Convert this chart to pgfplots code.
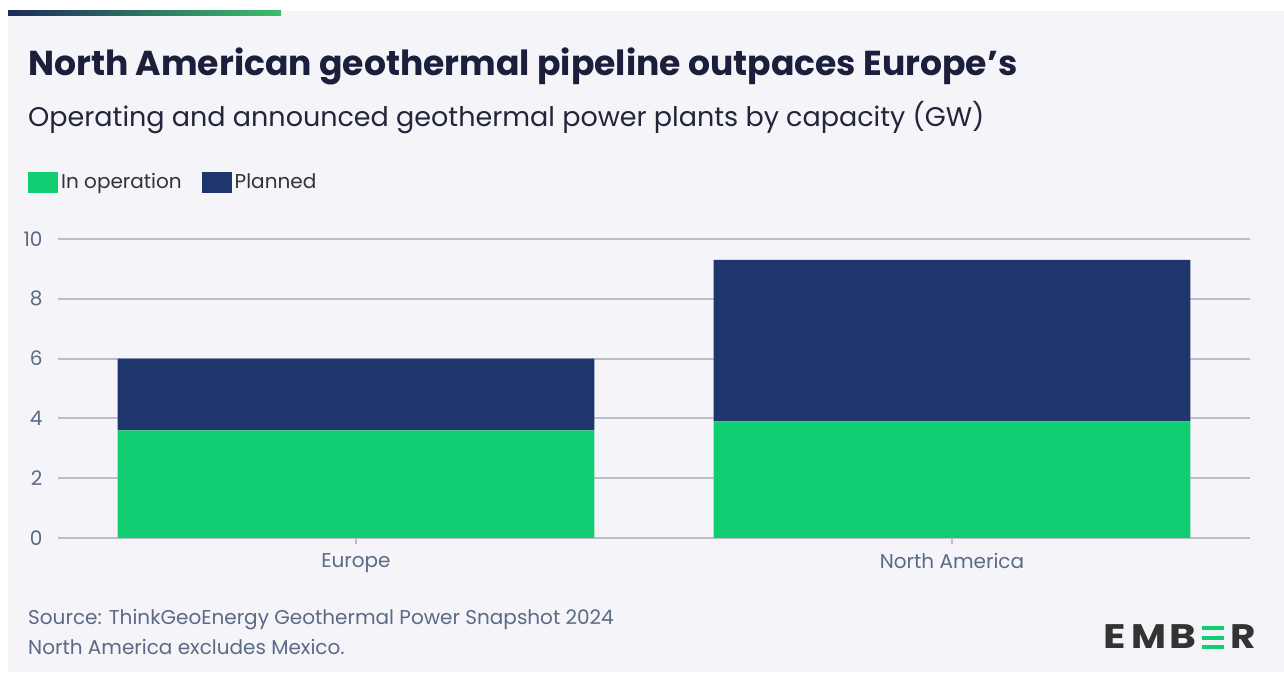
\documentclass[border=0pt]{standalone}
\usepackage{pgfplots}
\pgfplotsset{compat=1.18}
\usepackage{fontspec}
\setmainfont{Poppins}
\definecolor{bgc}{HTML}{F4F4F9}
\definecolor{gridc}{HTML}{B9BFCB}
\definecolor{opgreen}{HTML}{12CE72}
\definecolor{plnavy}{HTML}{1F366C}
\definecolor{titlec}{HTML}{1B1F3B}
\definecolor{subc}{HTML}{23253A}
\definecolor{tickc}{HTML}{5B6A85}
\definecolor{legc}{HTML}{333333}
\definecolor{logoc}{HTML}{333333}
\definecolor{gradl}{HTML}{1E2A5C}
\definecolor{gradr}{HTML}{3EBD6B}
\begin{document}
\begin{tikzpicture}[x=1pt,y=1pt]
\fill[white] (0,0) rectangle (1284,674);
\fill[bgc] (8,2) rectangle (1284,663);
\shade[left color=gradl,right color=gradr] (8,663) rectangle (281,658);
\node[anchor=base west,inner sep=0pt,text=titlec,font=\fontsize{34.6}{40}\selectfont\bfseries] at (28,598) {North American geothermal pipeline outpaces Europe’s};
\node[anchor=base west,inner sep=0pt,text=subc,font=\fontsize{27}{32}\selectfont] at (28,547) {Operating and announced geothermal power plants by capacity (GW)};
\begin{axis}[
  at={(58pt,136pt)}, anchor=south west,
  scale only axis, width=1192pt, height=299pt,
  ybar stacked, bar width=0.8,
  xmin=-0.5, xmax=1.5, ymin=0, ymax=10,
  xtick=data, xticklabels={Europe, North America},
  ytick={0,2,4,6,8,10},
  axis line style={draw=none},
  ytick style={draw=none},
  xtick style={draw=gridc,line width=1.3pt},
  xtick pos=bottom, tick align=outside, major tick length=6pt,
  ymajorgrids, grid style={color=gridc,line width=2pt},
  /pgf/number format/assume math mode=true,
  yticklabel style={text=tickc,font=\fontsize{20}{22}\selectfont,anchor=east,xshift=-6pt},
  xticklabel style={text=tickc,font=\fontsize{20}{23}\selectfont,yshift=-6pt},
  legend image code/.code={\fill[#1] (0pt,-10.5pt) rectangle (30pt,10.5pt);},
  legend style={at={(axis description cs:-0.02517,1.1906)}, anchor=west,
    draw=none, fill=none, inner sep=0pt, legend columns=2,
    nodes={inner sep=3pt,text=legc,font=\fontsize{20}{23}\selectfont},
    /tikz/every even column/.append style={column sep=17pt}},
]
\addplot[fill=opgreen,draw=none] coordinates {(0,3.6) (1,3.9)};
\addlegendentry{In operation}
\addplot[fill=plnavy,draw=none] coordinates {(0,2.4) (1,5.4)};
\addlegendentry{Planned}
\end{axis}
\node[anchor=base west,inner sep=0pt,text=tickc,font=\fontsize{20}{23}\selectfont] at (28,49) {Source: ThinkGeoEnergy Geothermal Power Snapshot 2024};
\node[anchor=base west,inner sep=0pt,text=tickc,font=\fontsize{20}{23}\selectfont] at (28,19) {North America excludes Mexico.};
\begin{scope}[every node/.style={anchor=base west,inner sep=0pt,text=logoc,font=\fontsize{34}{36}\selectfont\bfseries}]
\node at (1103,25) {\scalebox{1.22}[1]{E}};
\node at (1131,25) {\scalebox{1.12}[1]{M}};
\node at (1169,25) {\scalebox{1.2}[1]{B}};
\node at (1230,25) {\scalebox{1.15}[1]{R}};
\end{scope}
\fill[opgreen] (1202,48) rectangle (1224,44);
\fill[opgreen] (1202,38) rectangle (1224,34);
\fill[opgreen] (1202,28.5) rectangle (1224,24.5);
\end{tikzpicture}
\end{document}
